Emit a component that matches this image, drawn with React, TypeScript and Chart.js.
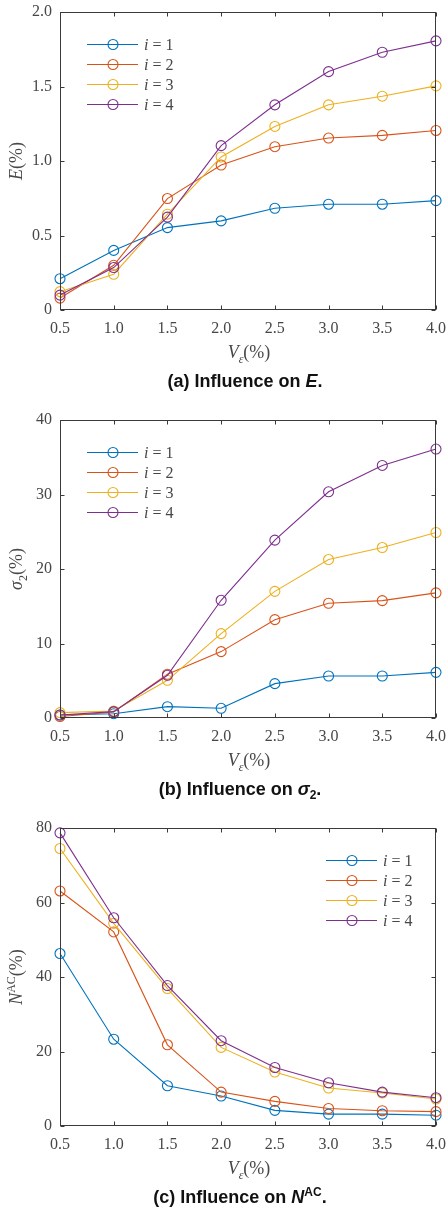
import React, { useEffect, useRef } from 'react';
import { Chart, registerables } from 'chart.js';
Chart.register(...registerables);

// ---------- data ----------
const V_EPS = [0.5, 1.0, 1.5, 2.0, 2.5, 3.0, 3.5, 4.0];
const X_TICK_LABELS = ['0.5', '1.0', '1.5', '2.0', '2.5', '3.0', '3.5', '4.0'];
const SERIES_I = ['1', '2', '3', '4'];
const COLORS = ['#0072BD', '#D95319', '#EDB120', '#7E2F8E'];

// (a) E(%)
const E_I1 = [0.21, 0.40, 0.553, 0.598, 0.683, 0.71, 0.71, 0.734];
const E_I2 = [0.08, 0.30, 0.748, 0.973, 1.096, 1.154, 1.172, 1.205];
const E_I3 = [0.123, 0.24, 0.643, 1.027, 1.232, 1.377, 1.435, 1.504];
const E_I4 = [0.10, 0.285, 0.623, 1.103, 1.377, 1.60, 1.73, 1.806];
const E_TICKS = ['0', '0.5', '1.0', '1.5', '2.0'];

// (b) sigma2(%)
const S_I1 = [0.4, 0.58, 1.52, 1.3, 4.61, 5.64, 5.64, 6.13];
const S_I2 = [0.2, 0.8, 5.87, 8.91, 13.2, 15.4, 15.76, 16.8];
const S_I3 = [0.72, 0.94, 5.06, 11.33, 17.0, 21.27, 22.88, 24.9];
const S_I4 = [0.4, 0.85, 5.73, 15.8, 23.87, 30.36, 33.9, 36.1];
const S_TICKS = ['0', '10', '20', '30', '40'];

// (c) N^AC(%)
const N_I1 = [46.3, 23.3, 10.8, 8.05, 4.2, 3.2, 3.2, 2.9];
const N_I2 = [63.1, 52.1, 21.8, 9.1, 6.6, 4.7, 4.1, 3.85];
const N_I3 = [74.5, 54.4, 36.9, 21.1, 14.5, 10.2, 8.86, 7.25];
const N_I4 = [78.7, 55.9, 37.7, 22.9, 15.7, 11.6, 9.1, 7.6];
const N_TICKS = ['0', '20', '40', '60', '80'];

// ---------- styling ----------
const SERIF = "'Liberation Serif', 'Times New Roman', serif";
const SANS = "'Liberation Sans', Arial, sans-serif";
const TEXT = '#474747';
const AXIS = '#3a3a3a';

type Seg = { t: string; font: string; dy?: number };

function drawSegs(ctx: CanvasRenderingContext2D, segs: Seg[], x: number, y: number, align: 'center' | 'left') {
  let total = 0;
  for (const s of segs) {
    ctx.font = s.font;
    total += ctx.measureText(s.t).width;
  }
  let cx = align === 'center' ? x - total / 2 : x;
  ctx.textAlign = 'left';
  ctx.textBaseline = 'alphabetic';
  for (const s of segs) {
    ctx.font = s.font;
    ctx.fillText(s.t, cx, y + (s.dy || 0));
    cx += ctx.measureText(s.t).width;
  }
}

type PanelCfg = {
  top: number;
  series: number[][];
  yMax: number;
  yStep: number;
  yTicks: string[];
  yTitle: Seg[];
  caption: Seg[];
  captionX: number;
  legendLeft: number;
};

const I18 = `italic 18px ${SERIF}`;
const R18 = `18px ${SERIF}`;
const R12 = `12px ${SERIF}`;
const I12 = `italic 12px ${SERIF}`;
const CB = `bold 18px ${SANS}`;
const CBI = `italic bold 18px ${SANS}`;
const CB12 = `bold 12px ${SANS}`;

const PANELS: PanelCfg[] = [
  {
    top: 0,
    series: [E_I1, E_I2, E_I3, E_I4],
    yMax: 2,
    yStep: 0.5,
    yTicks: E_TICKS,
    yTitle: [
      { t: 'E', font: I18 },
      { t: '(%)', font: R18 },
    ],
    caption: [
      { t: '(a) Influence on ', font: CB },
      { t: 'E', font: CBI },
      { t: '.', font: CB },
    ],
    captionX: 245,
    legendLeft: 87,
  },
  {
    top: 408,
    series: [S_I1, S_I2, S_I3, S_I4],
    yMax: 40,
    yStep: 10,
    yTicks: S_TICKS,
    yTitle: [
      { t: 'σ', font: I18 },
      { t: '2', font: R12, dy: 5 },
      { t: '(%)', font: R18 },
    ],
    caption: [
      { t: '(b) Influence on ', font: CB },
      { t: 'σ', font: CBI },
      { t: '2', font: CB12, dy: 4 },
      { t: '.', font: CB },
    ],
    captionX: 240,
    legendLeft: 87,
  },
  {
    top: 816,
    series: [N_I1, N_I2, N_I3, N_I4],
    yMax: 80,
    yStep: 20,
    yTicks: N_TICKS,
    yTitle: [
      { t: 'N', font: I18 },
      { t: 'AC', font: R12, dy: -7 },
      { t: '(%)', font: R18 },
    ],
    caption: [
      { t: '(c) Influence on ', font: CB },
      { t: 'N', font: CBI },
      { t: 'AC', font: CB12, dy: -7 },
      { t: '.', font: CB },
    ],
    captionX: 240,
    legendLeft: 326,
  },
];

function makeDecor(cfg: PanelCfg) {
  return {
    id: 'decor',
    afterDraw(chart: any) {
      const ctx: CanvasRenderingContext2D = chart.ctx;
      const { left, right, top, bottom } = chart.chartArea;
      const xs = chart.scales.x;
      const ys = chart.scales.y;
      ctx.save();
      // box
      ctx.strokeStyle = AXIS;
      ctx.lineWidth = 1;
      const L = Math.round(left) + 0.5;
      const R = Math.round(right) - 0.5;
      const T = Math.round(top) + 0.5;
      const B = Math.round(bottom) - 0.5;
      ctx.strokeRect(L, T, R - L, B - T);
      // inward ticks
      const TL = 4;
      ctx.beginPath();
      xs.ticks.forEach((t: any) => {
        const px = Math.round(xs.getPixelForValue(t.value)) + 0.5;
        ctx.moveTo(px, B);
        ctx.lineTo(px, B - TL);
        ctx.moveTo(px, T);
        ctx.lineTo(px, T + TL);
      });
      ys.ticks.forEach((t: any) => {
        const py = Math.round(ys.getPixelForValue(t.value)) + 0.5;
        ctx.moveTo(L, py);
        ctx.lineTo(L + TL, py);
        ctx.moveTo(R, py);
        ctx.lineTo(R - TL, py);
      });
      ctx.stroke();

      // legend
      const rowY0 = top + 32;
      cfg.series.forEach((_, i) => {
        const ry = rowY0 + i * 20;
        const lx = cfg.legendLeft;
        ctx.strokeStyle = COLORS[i];
        ctx.lineWidth = 1.1;
        ctx.beginPath();
        ctx.moveTo(lx, ry + 0.5);
        ctx.lineTo(lx + 51, ry + 0.5);
        ctx.stroke();
        ctx.beginPath();
        ctx.arc(lx + 26, ry + 0.5, 5, 0, Math.PI * 2);
        ctx.stroke();
        ctx.fillStyle = TEXT;
        drawSegs(ctx, [
          { t: 'i', font: `italic 16px ${SERIF}` },
          { t: ' = ' + SERIES_I[i], font: `16px ${SERIF}` },
        ], lx + 57, ry + 6, 'left');
      });

      // axis titles
      ctx.fillStyle = TEXT;
      const cxPlot = (left + right) / 2;
      drawSegs(ctx, [
        { t: 'V', font: I18 },
        { t: 'ε', font: I12, dy: 5 },
        { t: '(%)', font: R18 },
      ], cxPlot + 1, bottom + 48, 'center');

      ctx.save();
      ctx.translate(22, (top + bottom) / 2);
      ctx.rotate(-Math.PI / 2);
      drawSegs(ctx, cfg.yTitle, 0, 0, 'center');
      ctx.restore();

      // caption
      ctx.fillStyle = '#111111';
      drawSegs(ctx, cfg.caption, cfg.captionX, 387, 'center');
      ctx.restore();
    },
  };
}

function Panel({ cfg }: { cfg: PanelCfg }) {
  const ref = useRef<HTMLCanvasElement | null>(null);
  useEffect(() => {
    if (!ref.current) return;
    const datasets = cfg.series.map((vals, i) => ({
      label: 'i = ' + SERIES_I[i],
      data: vals.map((v, k) => ({ x: V_EPS[k], y: v })),
      borderColor: COLORS[i],
      borderWidth: 1.1,
      backgroundColor: 'transparent',
      pointStyle: 'circle',
      pointRadius: 5,
      pointBorderWidth: 1.1,
      pointBorderColor: COLORS[i],
      pointBackgroundColor: 'transparent',
      fill: false,
      tension: 0,
      clip: false as any,
      order: 3 - i,
    }));
    const chart = new Chart(ref.current, {
      type: 'line',
      data: { datasets },
      plugins: [makeDecor(cfg)],
      options: {
        animation: false,
        responsive: false,
        events: [],
        layout: { padding: { top: 12, right: 12, left: 0, bottom: 0 } },
        plugins: { legend: { display: false }, tooltip: { enabled: false } },
        scales: {
          x: {
            type: 'linear',
            min: 0.5,
            max: 4,
            afterBuildTicks: (s: any) => {
              s.ticks = V_EPS.map((v) => ({ value: v }));
            },
            ticks: {
              autoSkip: false,
              maxRotation: 0,
              padding: 9,
              color: TEXT,
              font: { family: SERIF, size: 16 },
              callback: (_v: any, i: number) => X_TICK_LABELS[i],
            },
            grid: { display: false, drawTicks: false },
            border: { display: false },
            afterFit: (s: any) => {
              s.height = 98;
              s.paddingLeft = 0;
              s.paddingRight = 0;
            },
          },
          y: {
            type: 'linear',
            min: 0,
            max: cfg.yMax,
            ticks: {
              stepSize: cfg.yStep,
              padding: 8,
              color: TEXT,
              font: { family: SERIF, size: 16 },
              callback: (_v: any, i: number) => cfg.yTicks[i],
            },
            grid: { display: false, drawTicks: false },
            border: { display: false },
            afterFit: (s: any) => {
              s.width = 60;
              s.paddingTop = 0;
              s.paddingBottom = 0;
            },
          },
        },
      } as any,
    });
    return () => chart.destroy();
  }, [cfg]);
  return (
    <canvas
      ref={ref}
      width={448}
      height={408}
      style={{ position: 'absolute', left: 0, top: cfg.top, width: 448, height: 408 }}
    />
  );
}

export default function App() {
  return (
    <div style={{ position: 'absolute', left: 0, top: 0, width: 448, height: 1210, background: '#ffffff', overflow: 'hidden' }}>
      {PANELS.map((p, i) => (
        <Panel key={i} cfg={p} />
      ))}
    </div>
  );
}
